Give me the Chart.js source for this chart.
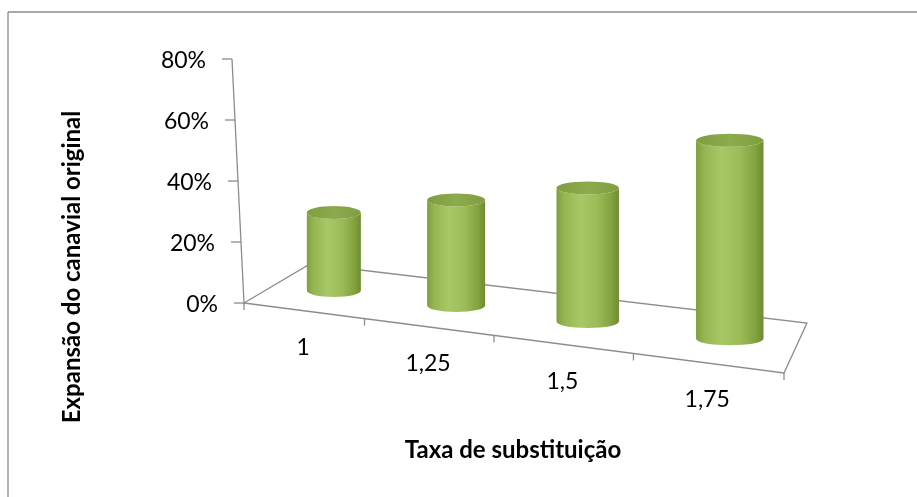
<!DOCTYPE html>
<html>
<head>
<meta charset="utf-8">
<script src="https://cdn.jsdelivr.net/npm/chart.js@4"></script>
<style>
  body { margin: 0; background: #fff; }
  .chart-box { width: 917px; height: 497px; position: relative; }
</style>
</head>
<body>
<div class="chart-box"><canvas id="myChart"></canvas></div>
<script>
const categories = ['1', '1,25', '1,5', '1,75'];
const expansao = [0.27, 0.34, 0.40, 0.55];
const yMax = 0.8;
const yStep = 0.2;

const xTitle = 'Taxa de substituição';
const yTitle = 'Expansão do canavial original';

const ctx = document.getElementById('myChart');

// perspective of the floor: front edge gets wider to the right
const persp = 0.138;
const warp = u => (1 - persp) * u / (1 - persp * u);
const stretch = u => (1 - persp) / Math.pow(1 - persp * u, 2);

// floor corners, relative to the chart area
function floor(area) {
    return {
        fl: { x: area.left, y: area.bottom },
        fr: { x: area.right, y: area.bottom + 70 },
        bl: { x: area.left + 66, y: area.bottom - 39 },
        br: { x: area.right + 23, y: area.bottom + 20 },
    };
}

function onFloor(f, u, d) {
    const t = warp(u);
    const fx = f.fl.x + (f.fr.x - f.fl.x) * t, fy = f.fl.y + (f.fr.y - f.fl.y) * t;
    const bx = f.bl.x + (f.br.x - f.bl.x) * t, by = f.bl.y + (f.br.y - f.bl.y) * t;
    return { x: fx + (bx - fx) * d, y: fy + (by - fy) * d };
}

function line(c, x1, y1, x2, y2) {
    c.beginPath();
    c.moveTo(x1, y1);
    c.lineTo(x2, y2);
    c.stroke();
}

const floorPlugin = {
    id: 'floor3d',
    beforeDatasetsDraw(chart) {
        const c = chart.ctx;
        const area = chart.chartArea;
        const yScale = chart.scales.y;
        const f = floor(area);
        c.save();
        c.strokeStyle = '#8c8c8c';
        c.lineWidth = 1.3;

        // chart frame (only top and left edges show)
        line(c, 8, 12, 917, 12);
        line(c, 8, 12, 8, 497);

        // floor outline
        c.beginPath();
        c.moveTo(f.fl.x, f.fl.y);
        c.lineTo(f.bl.x, f.bl.y);
        c.lineTo(f.br.x, f.br.y);
        c.lineTo(f.fr.x, f.fr.y);
        c.closePath();
        c.stroke();

        // category ticks along the front edge
        for (let i = 0; i <= categories.length; i++) {
            const p = onFloor(f, i / categories.length, 0);
            line(c, p.x, p.y, p.x, p.y + 7);
        }

        // slanted value axis
        const axX = y => area.left - 12 + (y - area.top) * 12 / (area.bottom - area.top);
        line(c, axX(area.top), area.top, axX(area.bottom), area.bottom);

        c.fillStyle = '#000';
        c.font = '23px Lato';
        c.textAlign = 'right';
        c.textBaseline = 'middle';
        yScale.ticks.forEach(t => {
            const y = yScale.getPixelForValue(t.value);
            const x = axX(y);
            line(c, x - 10, y, x, y);
            c.fillText(Math.round(t.value * 100) + '%', x - 26, y + 2);
        });

        // category labels
        c.textAlign = 'center';
        chart.getDatasetMeta(0).data.forEach((bar, i) => {
            const u = (bar.x - area.left) / area.width;
            const p = onFloor(f, u, 0);
            c.fillText(categories[i], p.x, p.y + 37);
        });

        // axis titles
        c.font = 'bold 24px Lato';
        c.fillText(xTitle, 513, 450);
        c.translate(72, 267);
        c.rotate(-Math.PI / 2);
        c.fillText(yTitle, 0, 0);
        c.restore();
    },
    afterDatasetsDraw(chart) {
        const c = chart.ctx;
        const area = chart.chartArea;
        const f = floor(area);
        const s0 = stretch(0.5 / categories.length);
        c.save();
        chart.getDatasetMeta(0).data.forEach(bar => {
            const u = (bar.x - area.left) / area.width;
            const s = stretch(u) / s0;
            const base = onFloor(f, u, 0.5);
            base.x += 8 * (s - 1) / 0.25;
            const h = (bar.base - bar.y) * 0.947 * s;
            const w = 54 * s;
            const ry = 6.5;
            const l = base.x - w / 2, r = base.x + w / 2, ty = base.y - h;

            const g = c.createLinearGradient(l, 0, r, 0);
            g.addColorStop(0, '#809e3d');
            g.addColorStop(0.12, '#95b552');
            g.addColorStop(0.38, '#a7c866');
            g.addColorStop(0.65, '#9cbc59');
            g.addColorStop(0.88, '#82a13f');
            g.addColorStop(1, '#6e8c31');
            c.beginPath();
            c.moveTo(l, ty);
            c.lineTo(l, base.y);
            c.ellipse(base.x, base.y, w / 2, ry, 0, Math.PI, 0, true);
            c.lineTo(r, ty);
            c.ellipse(base.x, ty, w / 2, ry, 0, 0, Math.PI, false);
            c.closePath();
            c.fillStyle = g;
            c.fill();

            const gt = c.createLinearGradient(l, 0, r, 0);
            gt.addColorStop(0, '#7f9d3f');
            gt.addColorStop(0.5, '#8cab4c');
            gt.addColorStop(1, '#809e41');
            c.beginPath();
            c.ellipse(base.x, ty, w / 2, ry, 0, 0, Math.PI * 2);
            c.fillStyle = gt;
            c.fill();
        });
        c.restore();
    }
};

const lineChart = new Chart(ctx, {
    type: 'bar',
    data: {
        labels: categories,
        datasets: [{
            label: yTitle,
            data: expansao,
            backgroundColor: 'rgba(0,0,0,0)',
            borderWidth: 0,
        }]
    },
    options: {
        responsive: true,
        maintainAspectRatio: false,
        animation: false,
        layout: {
            padding: { left: 244, right: 133, top: 59, bottom: 194 }
        },
        plugins: {
            legend: { display: false },
            tooltip: { enabled: false },
        },
        scales: {
            x: { display: false },
            y: {
                display: false,
                min: 0,
                max: yMax,
                ticks: { stepSize: yStep },
            }
        }
    },
    plugins: [floorPlugin]
});
</script>
</body>
</html>
